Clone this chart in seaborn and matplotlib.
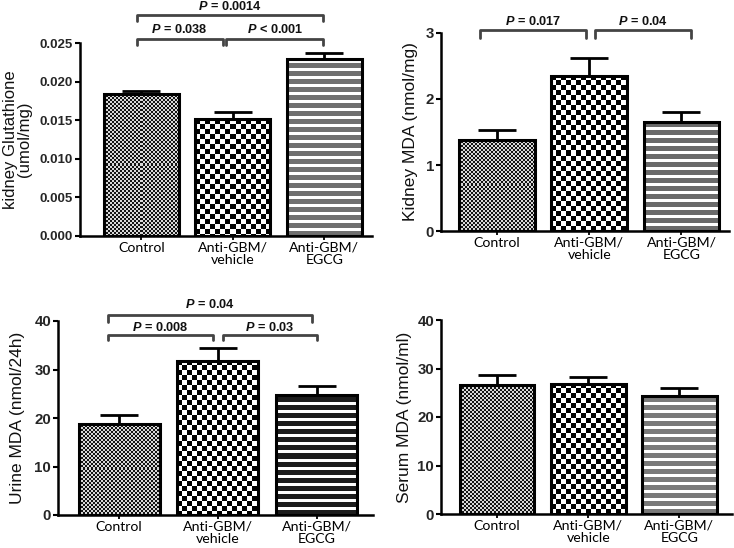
import numpy as np
import pandas as pd
import matplotlib
matplotlib.use("Agg")
import matplotlib.pyplot as plt
import seaborn as sns

# ---------------- data ----------------
categories = ["Control", "Anti-GBM/\nvehicle", "Anti-GBM/\nEGCG"]

gsh_mean = [0.0184, 0.0151, 0.0229]
gsh_sem = [0.0004, 0.0010, 0.0008]

kmda_mean = [1.38, 2.35, 1.65]
kmda_sem = [0.15, 0.27, 0.15]

umda_mean = [18.8, 31.8, 24.8]
umda_sem = [1.8, 2.7, 1.8]

smda_mean = [26.5, 26.9, 24.3]
smda_sem = [2.1, 1.3, 1.7]

gsh_ticks = [0.000, 0.005, 0.010, 0.015, 0.020, 0.025]
kmda_ticks = [0, 1, 2, 3]
umda_ticks = [0, 10, 20, 30, 40]
smda_ticks = [0, 10, 20, 30, 40]

gsh_label = "kidney Glutathione\n(umol/mg)"
kmda_label = "Kidney MDA (nmol/mg)"
umda_label = "Urine MDA (nmol/24h)"
smda_label = "Serum MDA (nmol/ml)"

# p-value brackets: (x_start, x_end, y_line, y_tip, y_text, value, operator)
gsh_pvals = [(-0.05, 1.99, 0.02863, 0.02785, 0.02979, "0.0014", "="),
             (-0.05, 0.89, 0.02552, 0.02474, 0.02681, "0.038", "="),
             (0.93, 1.99, 0.02552, 0.02474, 0.02681, "0.001", "<")]
kmda_pvals = [(-0.18, 0.97, 3.045, 2.924, 3.18, "0.017", "="),
              (1.06, 2.10, 3.045, 2.924, 3.18, "0.04", "=")]
umda_pvals = [(-0.11, 1.95, 41.3, 39.8, 43.3, "0.04", "="),
              (-0.11, 0.95, 37.1, 36.1, 38.6, "0.008", "="),
              (1.05, 2.00, 37.1, 36.1, 38.6, "0.03", "=")]
smda_pvals = []

# ---------------- style ----------------
sns.set_theme(style="ticks")
plt.rcParams["font.family"] = ["Liberation Sans", "DejaVu Sans"]
plt.rcParams["mathtext.fontset"] = "custom"
plt.rcParams["mathtext.it"] = "Liberation Sans:italic:bold"
plt.rcParams["mathtext.rm"] = "Liberation Sans:bold"
plt.rcParams["mathtext.bf"] = "Liberation Sans:bold"

W, H = 734, 548
fig = plt.figure(figsize=(W / 100, H / 100), dpi=100)
fig.patch.set_facecolor("white")


def px_axes(left, right, top, bottom):
    return fig.add_axes([left / W, 1 - bottom / H, (right - left) / W, (bottom - top) / H])


panels = [
    dict(rect=(80, 372, 43, 236), mean=gsh_mean, sem=gsh_sem, ticks=gsh_ticks,
         fmt="{:.3f}", label=gsh_label, xlim=(-0.67, 2.52), lab_x=-0.163,
         pvals=gsh_pvals, tick_fs=9.5, stripe="#707070", lab_fs=12.0),
    dict(rect=(441, 729, 33, 231), mean=kmda_mean, sem=kmda_sem, ticks=kmda_ticks,
         fmt="{:d}", label=kmda_label, xlim=(-0.607, 2.515), lab_x=-0.08,
         pvals=kmda_pvals, tick_fs=10.8, stripe="#6a6a6a", lab_fs=12.5),
    dict(rect=(58, 373, 321, 515), mean=umda_mean, sem=umda_sem, ticks=umda_ticks,
         fmt="{:d}", label=umda_label, xlim=(-0.618, 2.572), lab_x=-0.105,
         pvals=umda_pvals, tick_fs=10.8, stripe="#1c1c1c", lab_fs=12.5),
    dict(rect=(441, 732, 320, 514), mean=smda_mean, sem=smda_sem, ticks=smda_ticks,
         fmt="{:d}", label=smda_label, xlim=(-0.615, 2.577), lab_x=-0.10,
         pvals=smda_pvals, tick_fs=10.8, stripe="#7a7a7a", lab_fs=12.5),
]


def add_texture(ax, patch, kind, stripe_color):
    x0, y0 = patch.get_x(), patch.get_y()
    w, h = patch.get_width(), patch.get_height()
    p0 = ax.transData.transform((x0, y0))
    p1 = ax.transData.transform((x0 + w, y0 + h))
    nx = max(1, int(round(p1[0] - p0[0])))
    ny = max(1, int(round(p1[1] - p0[1])))
    jj, ii = np.meshgrid(np.arange(nx), np.arange(ny))
    arr = np.ones((ny, nx, 3))
    if kind == "fine":
        m = ((ii // 2 + jj // 2) % 2) == 0
        dark = np.array([0.08, 0.08, 0.08])
        light = np.array([0.85, 0.85, 0.85])
    elif kind == "coarse":
        m = ((ii // 5 + jj // 5) % 2) == 0
        dark = np.array([0.0, 0.0, 0.0])
        light = np.array([1.0, 1.0, 1.0])
    else:
        iib = ny - 1 - ii  # phase from the base of the bar
        m = (iib % 8) < 5
        dark = np.array(matplotlib.colors.to_rgb(stripe_color))
        light = np.array([1.0, 1.0, 1.0])
    arr[m] = dark
    arr[~m] = light
    ax.imshow(arr, extent=(x0, x0 + w, y0, y0 + h), origin="upper",
              interpolation="nearest", aspect="auto", zorder=2)


kinds = ["fine", "coarse", "stripe"]

for p in panels:
    ax = px_axes(*p["rect"])
    df = pd.DataFrame({"group": categories, "value": p["mean"]})
    sns.barplot(data=df, x="group", y="value", ax=ax, width=0.82,
                errorbar=None, color="white", saturation=1)
    ymax = p["ticks"][-1]
    ax.set_xlim(*p["xlim"])
    ax.set_ylim(0, ymax)

    for patch, kind in zip(ax.patches, kinds):
        patch.set_facecolor("none")
        patch.set_edgecolor("black")
        patch.set_linewidth(2.2)
        patch.set_zorder(3)
        add_texture(ax, patch, kind, p["stripe"])

    xs = np.arange(len(categories))
    ax.errorbar(xs, p["mean"], yerr=[np.zeros(len(xs)), p["sem"]], fmt="none",
                ecolor="black", elinewidth=2.0, capsize=14, capthick=2.0, zorder=4)

    ax.set_xlim(*p["xlim"])
    ax.set_ylim(0, ymax)

    sns.despine(ax=ax)
    for s in ["left", "bottom"]:
        ax.spines[s].set_linewidth(1.8)
        ax.spines[s].set_color("black")

    ax.set_yticks(p["ticks"])
    ax.set_yticklabels([p["fmt"].format(t) for t in p["ticks"]],
                       fontweight="bold", fontsize=p["tick_fs"])
    ax.tick_params(axis="y", length=3.5, width=1.5, pad=1.5, color="black")
    ax.set_xticks(xs)
    ax.set_xticklabels(categories, family=["Lato", "DejaVu Sans"], fontsize=10.2,
                       color="black", linespacing=1.0)
    ax.tick_params(axis="x", length=3, width=1.3, pad=1.0, color="black")
    ax.set_xlabel("")
    ax.set_ylabel(p["label"], fontsize=p["lab_fs"], color="#111111", linespacing=0.95)
    ax.yaxis.set_label_coords(p["lab_x"], 0.5)

    for x0, x1, yl, yt, ytx, val, op in p["pvals"]:
        ax.plot([x0, x0, x1, x1], [yt, yl, yl, yt], color="#444444", lw=2.0,
                clip_on=False, solid_joinstyle="round", zorder=5)
        ax.text((x0 + x1) / 2, ytx, r"$P$ " + op + " " + val, ha="center",
                va="center", fontsize=9.2, fontweight="bold", color="#111111",
                clip_on=False)

fig.savefig("out.png", dpi=100)
